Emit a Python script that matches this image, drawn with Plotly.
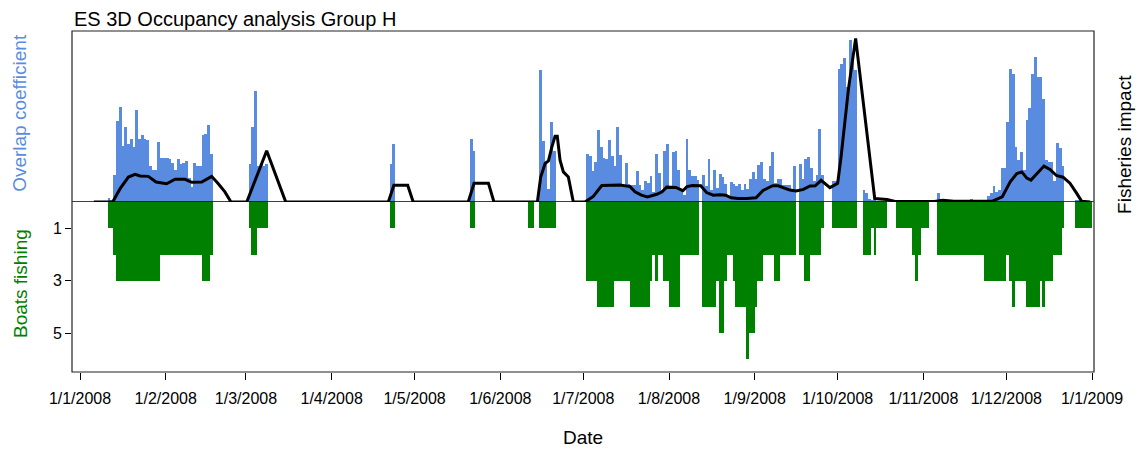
import pandas as pd
import plotly.graph_objects as go

# daily values from 1/1/2008 to 31/12/2008, one list per month
overlap_jan = [0, 0, 0, 0, 0, 0, 0, 0, 0, 0, .025, .01, .156, .475, .557, .33, .44, .34, .37, .32,
               .54, .37, .39, .37, .36, .21, .19, .19, .35, .26, .26]
overlap_feb = [.26, .25, .23, .19, .25, .22, .23, .24, .14, .09, .23, .21, .21, .39, .40, .45, .28,
               0, 0, 0, 0, 0, 0, 0, 0, 0, 0, 0, 0]
overlap_mar = [0, .22, .44, .65, .21, .22, .21, .22, 0, 0, 0, 0, 0, 0, 0, 0, 0, 0, 0, 0,
               0, 0, 0, 0, 0, 0, 0, 0, 0, 0, 0]
overlap_apr = [0, 0, 0, 0, 0, 0, 0, 0, 0, 0, 0, 0, 0, 0, 0, 0, 0, 0, 0, 0,
               0, .22, .34, 0, 0, 0, 0, 0, 0, 0]
overlap_may = [0, 0, 0, 0, 0, 0, 0, 0, 0, 0, 0, 0, 0, 0, 0, 0, 0, 0, 0, 0,
               .37, .30, 0, 0, 0, 0, 0, 0, 0, 0, 0]
overlap_jun = [0, 0, 0, 0, 0, 0, 0, 0, 0, 0, 0, 0, 0, 0, .77, .355, .24, .074, .465, .30,
               0, 0, 0, 0, 0, 0, 0, 0, 0, 0]
overlap_jul = [0, .28, .27, .18, .236, .42, .32, .26, .25, .36, .27, .21, .44, .275, .10, .23,
               .105, .10, .10, .18, .10, .07, .12, .11, .15, .06, .28, .17, .07, .30, .34]
overlap_aug = [.074, .29, .30, .187, .07, .04, .37, .19, .15, .15, .13, 0, .158, .094, .25, .07,
               .19, .084, .164, .148, .105, .03, .117, .105, .094, .105, .07, .105, .074, .136, .173]
overlap_sep = [.136, .216, .236, .134, .125, .21, .29, .11, .134, .134, .10, .10, .10, .07, .21,
               0, .22, .136, .25, .265, .197, .12, .158, .427, .156, 0, 0, 0, .12, .125]
overlap_oct = [.775, .805, .84, .67, .95, .82, .77, 0, 0, .07, .05, .02, .01, .01, .005, .005,
               .005, .005, 0, 0, 0, .005, .005, .005, .005, .005, .005, .005, .005, .005, .005]
overlap_nov = [.005, .005, 0, 0, 0, .05, .02, .005, .005, .005, .005, .005, .005, .005, .005,
               .005, .005, .015, .005, .005, .005, .005, .005, .035, .055, .094, .06, .07, .2, .197]
overlap_dec = [.47, .78, .75, .32, .245, .294, .187, .48, .55, .75, .846, .73, .73, .6, .245, .236,
               .234, .12, .345, .315, .21, 0, 0, 0, 0, .012, .01, .005, .005, .005, .005]

boats_jan = [0, 0, 0, 0, 0, 0, 0, 0, 0, 0, 1, 1, 2, 3, 3, 3, 3, 3, 3, 3,
             3, 3, 3, 3, 3, 3, 3, 3, 3, 2, 2]
boats_feb = [2, 2, 2, 2, 2, 2, 2, 2, 2, 2, 2, 2, 2, 3, 3, 3, 2, 0, 0, 0,
             0, 0, 0, 0, 0, 0, 0, 0, 0]
boats_mar = [0, 1, 2, 2, 1, 1, 1, 1, 0, 0, 0, 0, 0, 0, 0, 0, 0, 0, 0, 0,
             0, 0, 0, 0, 0, 0, 0, 0, 0, 0, 0]
boats_apr = [0, 0, 0, 0, 0, 0, 0, 0, 0, 0, 0, 0, 0, 0, 0, 0, 0, 0, 0, 0,
             0, 1, 1, 0, 0, 0, 0, 0, 0, 0]
boats_may = [0, 0, 0, 0, 0, 0, 0, 0, 0, 0, 0, 0, 0, 0, 0, 0, 0, 0, 0, 0,
             1, 1, 0, 0, 0, 0, 0, 0, 0, 0, 0]
boats_jun = [0, 0, 0, 0, 0, 0, 0, 0, 0, 0, 1, 1, 0, 0, 1, 1, 1, 1, 1, 1,
             0, 0, 0, 0, 0, 0, 0, 0, 0, 0]
boats_jul = [0, 3, 3, 3, 3, 4, 4, 4, 4, 4, 4, 3, 3, 3, 3, 3, 3, 4, 4, 4,
             4, 4, 4, 4, 3, 2, 3, 2, 2, 3, 3]
boats_aug = [4, 4, 4, 4, 2, 2, 2, 2, 2, 2, 2, 0, 4, 4, 4, 4, 4, 3, 5, 5,
             3, 2, 2, 3, 4, 4, 4, 4, 6, 5, 5]
boats_sep = [4, 3, 3, 2, 2, 2, 2, 3, 3, 2, 2, 2, 2, 2, 2, 0, 2, 2, 3, 3,
             2, 2, 2, 2, 1, 0, 0, 0, 1, 1]
boats_oct = [1, 1, 1, 1, 1, 1, 1, 0, 0, 2, 2, 2, 1, 2, 1, 1, 1, 1, 0, 0,
             0, 1, 1, 1, 1, 1, 1, 2, 3, 2, 1]
boats_nov = [1, 1, 0, 0, 0, 2, 2, 2, 2, 2, 2, 2, 2, 2, 2, 2, 2, 2, 2, 2,
             2, 2, 3, 3, 3, 3, 3, 3, 3, 3]
boats_dec = [2, 3, 4, 3, 3, 3, 3, 4, 4, 4, 4, 4, 3, 4, 3, 3, 3, 2, 2, 2,
             1, 0, 0, 0, 0, 1, 1, 1, 1, 1, 1]

# fisheries impact line, (days since 1/1/2008, value)
impact_day = [5, 11.8, 14.5, 17.5, 19.9, 21.7, 24.7, 27.5, 31.3, 34.4, 38, 40.4, 44, 47.6, 50,
              52.4, 54.6, 60.3, 67.5, 74.4, 111.5, 113.5, 118.5, 120.5, 140.4, 142.5, 147.7,
              149.7, 165.4, 166.6, 168.2, 169.4, 170.6, 171.8, 172.6, 173.6, 174.8, 176.6, 178.4,
              182.6, 185.6, 188.7, 192, 195.3, 198.9, 200.7, 203, 205.2, 208.6, 210.5, 212.2,
              215.5, 218, 219.5, 221.5, 224.5, 226.6, 229, 231.5, 233.5, 235.5, 238, 241, 244.5,
              247, 250.5, 252.5, 254.5, 256.7, 259, 261.6, 264, 265.9, 268, 271.2, 274, 275.2,
              277.9, 280.5, 287.4, 291.8, 294.8, 309, 312, 316, 330, 333.5, 336.4, 338.8, 340.6,
              342.4, 343.9, 346, 348.6, 350.8, 353.1, 355.5, 358, 360.4, 362.2, 365.3]
impact = [0, 0, .078, .146, .162, .152, .15, .117, .107, .133, .133, .115, .117, .15, .107,
          .059, 0, 0, .30, 0, 0, .098, .098, 0, 0, .11, .11,
          0, 0, .146, .225, .24, .32, .385, .385, .244, .176, .146, 0,
          0, .033, .096, .098, .10, .09, .06, .04, .03, .045, .06, .087,
          .085, .066, .09, .096, .095, .055, .04, .043, .04, .025, .02, .02, .025,
          .068, .095, .095, .085, .07, .064, .074, .094, .095, .127, .084, .11, .26,
          .66, .957, .02, .015, .003, .003, .01, .005, .005, .03, .118, .167, .176,
          .14, .128, .167, .21, .19, .155, .145, .11, .052, .005, 0]

month_labels = ["1/1/2008", "1/2/2008", "1/3/2008", "1/4/2008", "1/5/2008", "1/6/2008", "1/7/2008",
                "1/8/2008", "1/9/2008", "1/10/2008", "1/11/2008", "1/12/2008", "1/1/2009"]

overlap = (overlap_jan + overlap_feb + overlap_mar + overlap_apr + overlap_may + overlap_jun +
           overlap_jul + overlap_aug + overlap_sep + overlap_oct + overlap_nov + overlap_dec)
boats = (boats_jan + boats_feb + boats_mar + boats_apr + boats_may + boats_jun +
         boats_jul + boats_aug + boats_sep + boats_oct + boats_nov + boats_dec)

start = pd.Timestamp("2008-01-01")
days = pd.date_range(start, periods=len(overlap), freq="D")
bar_x = days + pd.Timedelta(hours=12)
line_x = [start + pd.Timedelta(days=d) for d in impact_day]
month_ticks = pd.date_range("2008-01-01", "2009-01-01", freq="MS")

FONT = "Arial, Liberation Sans, sans-serif"
BLUE = "#598ce0"
GREEN = "#008000"
split = 0.4985

fig = go.Figure()
fig.add_trace(go.Bar(x=bar_x, y=overlap, yaxis="y2", width=86400000,
                     marker_color=BLUE, marker_line_width=0, name="Overlap coefficient"))
fig.add_trace(go.Bar(x=bar_x, y=boats, yaxis="y", width=86400000,
                     marker_color=GREEN, marker_line_width=0, name="Boats fishing"))
fig.add_trace(go.Scatter(x=line_x, y=impact, yaxis="y2", mode="lines",
                         line=dict(color="black", width=3), name="Fisheries impact"))

# the page body adds an 8px margin, so the figure is a little smaller than the window
fig.update_layout(
    width=1138, height=442,
    margin=dict(l=64, r=52, t=23, b=78),
    paper_bgcolor="white", plot_bgcolor="white",
    showlegend=False, barmode="overlay", bargap=0,
    font=dict(family=FONT, color="black"),
    xaxis=dict(type="date", automargin=False,
               range=[start - pd.Timedelta(days=2.9), start + pd.Timedelta(days=366.7)],
               tickvals=month_ticks, ticktext=month_labels,
               ticks="outside", ticklen=7, tickcolor="black", ticklabelstandoff=5,
               tickfont=dict(size=16), showgrid=False, zeroline=False),
    yaxis=dict(domain=[0, split], range=[6.476, 0], tickvals=[1, 3, 5], automargin=False,
               ticks="outside", ticklen=6, tickcolor="black",
               tickfont=dict(size=16), showgrid=False, zeroline=False),
    yaxis2=dict(domain=[split, 1], range=[0, 1], showticklabels=False, automargin=False,
                showgrid=False, zeroline=False, anchor="x"),
    shapes=[
        dict(type="line", xref="paper", x0=0, x1=1, yref="y2", y0=0, y1=0,
             line=dict(color="black", width=1.3), layer="above"),
        dict(type="rect", xref="paper", x0=0, x1=1, yref="paper", y0=0, y1=1,
             line=dict(color="#222222", width=1.2), layer="above"),
    ],
    annotations=[
        dict(text="ES 3D Occupancy analysis Group H", xref="paper", yref="paper",
             x=0, y=1, xanchor="left", yanchor="middle", yshift=12, showarrow=False,
             font=dict(size=20)),
        dict(text="Date", xref="paper", yref="paper", x=0.5, y=0, xanchor="center",
             yanchor="middle", yshift=-65, showarrow=False, font=dict(size=19)),
        dict(text="Overlap coefficient", xref="paper", yref="paper", x=0, y=0.76,
             xanchor="center", yanchor="middle", xshift=-52, textangle=-90,
             showarrow=False, font=dict(size=19, color=BLUE)),
        dict(text="Boats fishing", xref="paper", yref="paper", x=0, y=0.258,
             xanchor="center", yanchor="middle", xshift=-52, textangle=-90,
             showarrow=False, font=dict(size=19, color=GREEN)),
        dict(text="Fisheries impact", xref="paper", yref="paper", x=1, y=0.666,
             xanchor="center", yanchor="middle", xshift=31, textangle=-90,
             showarrow=False, font=dict(size=19)),
    ],
)

fig.write_html("out.html")
